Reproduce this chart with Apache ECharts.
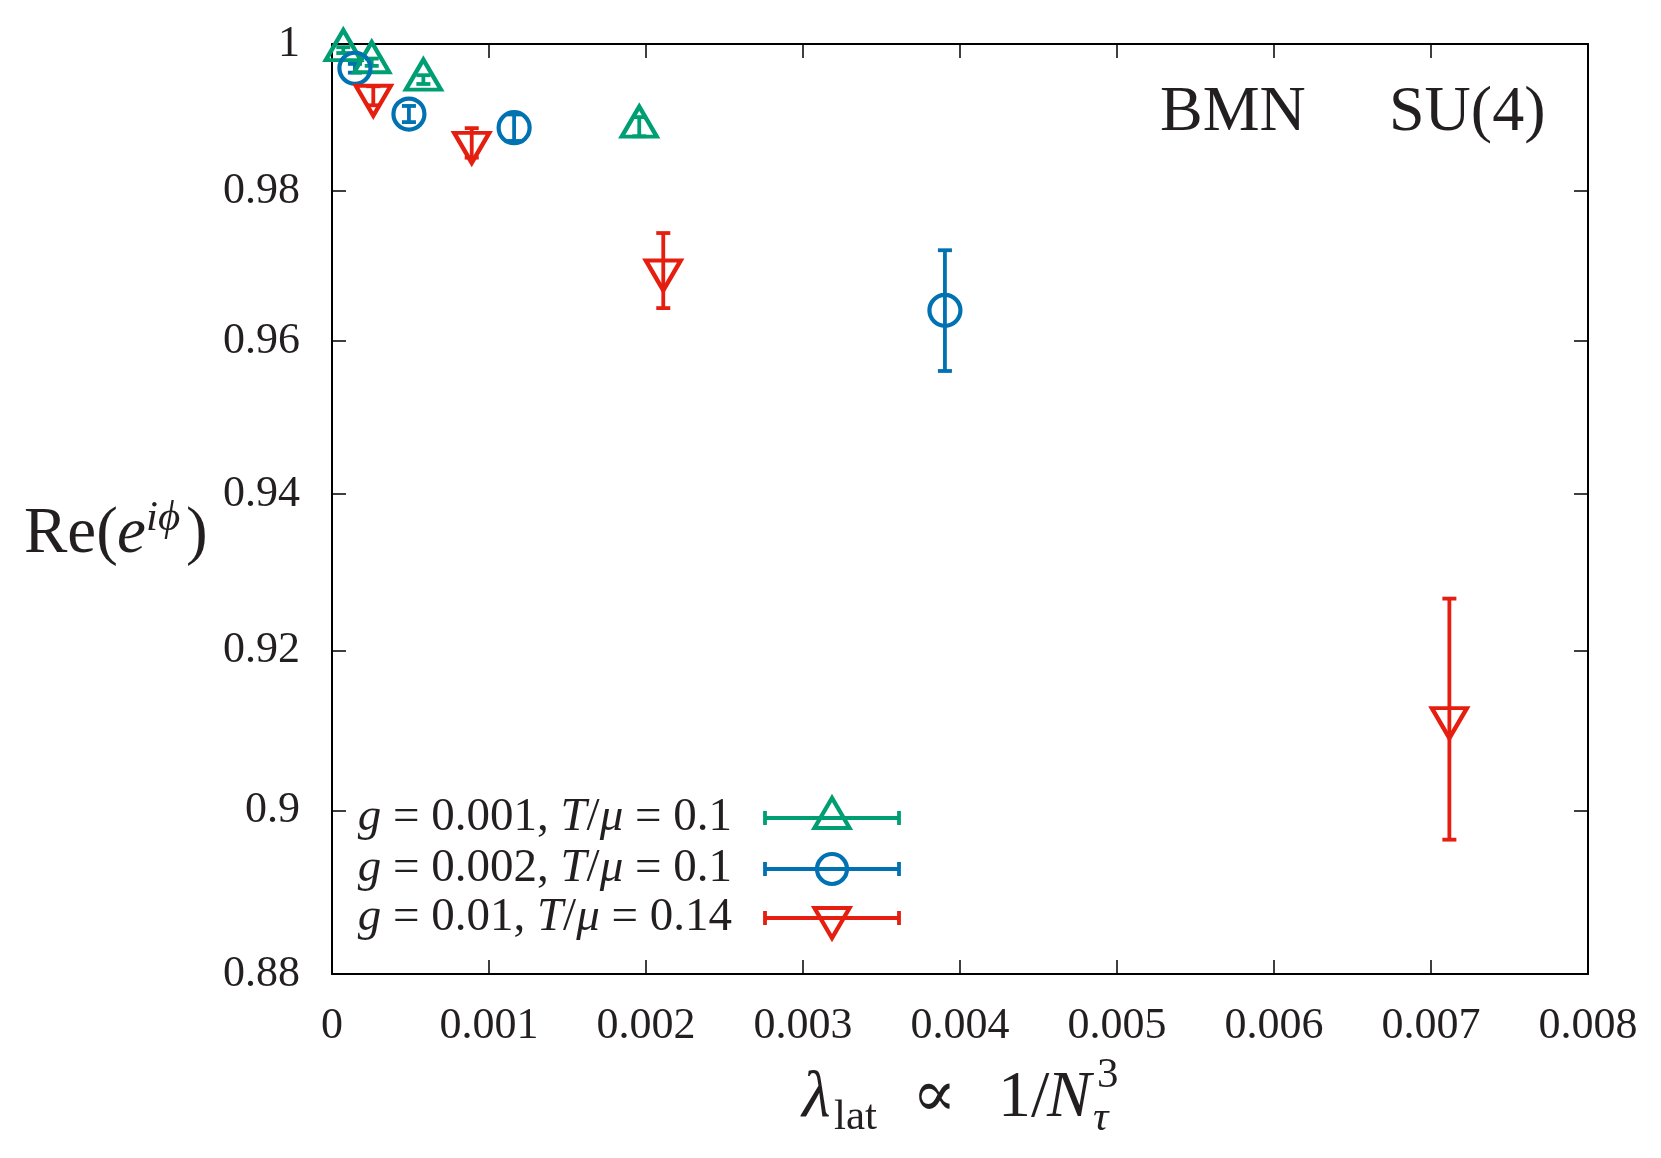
<!DOCTYPE html>
<html>
<head>
<meta charset="utf-8">
<script src="https://cdn.jsdelivr.net/npm/echarts@6/dist/echarts.min.js"></script>
<style>
html, body { margin: 0; padding: 0; background: #fff; }
#chart { width: 1661px; height: 1158px; }
</style>
</head>
<body>
<div id="chart"></div>
<script>
// tick values (y axis is logarithmic)
const xTicks = [0, 0.001, 0.002, 0.003, 0.004, 0.005, 0.006, 0.007, 0.008];
const yTicks = [0.88, 0.9, 0.92, 0.94, 0.96, 0.98, 1];

// g = 0.001, T/mu = 0.1
const g1X = [0.000072, 0.000253, 0.000582, 0.001957];
const g1Y = [0.99916, 0.9975, 0.99512, 0.9887];
const g1Err = [0.0004, 0.0005, 0.0006, 0.0013];

// g = 0.002, T/mu = 0.1
const g2X = [0.000146, 0.00049, 0.00116, 0.003904];
const g2Y = [0.99667, 0.99042, 0.98856, 0.96405];
const g2Err = [0.0006, 0.0011, 0.0018, 0.008];

// g = 0.01, T/mu = 0.14
const g3X = [0.000263, 0.00089, 0.00211, 0.007117];
const g3Y = [0.99291, 0.9865, 0.96935, 0.9115];
const g3Err = [0.0013, 0.002, 0.005, 0.0151];

const seriesNames = ['g = 0.001, T/μ = 0.1', 'g = 0.002, T/μ = 0.1', 'g = 0.01, T/μ = 0.14'];
const legendRich = ['{i|g} = 0.001, {i|T}/{i|μ} = 0.1', '{i|g} = 0.002, {i|T}/{i|μ} = 0.1', '{i|g} = 0.01, {i|T}/{i|μ} = 0.14'];

const GREEN = '#009e73', BLUE = '#0072b2', RED = '#e51e10';
const FONT = '"Liberation Serif", "DejaVu Serif", serif';
const TEXT = '#231f20';
const LW = 3.8;   // error bars
const MW = 4.2;   // point outlines

const chart = echarts.init(document.getElementById('chart'));

// text placed by its baseline
function txt(s, x, base, size, italic, align) {
    return {
        type: 'text', x: x, y: base - 0.32 * size, silent: true,
        style: {
            text: s, fontSize: size, fontFamily: FONT, fontStyle: italic ? 'italic' : 'normal',
            fill: TEXT, align: align || 'left', verticalAlign: 'middle'
        }
    };
}

function pts(xs, ys) { return xs.map((x, i) => [x, ys[i]]); }
function errs(xs, ys, es) { return xs.map((x, i) => [x, ys[i], es[i]]); }

function errSeries(data, color) {
    return {
        type: 'custom',
        data: data,
        encode: { x: 0, y: 1 },
        z: 3,
        silent: true,
        renderItem: function (params, api) {
            const x = api.value(0), y = api.value(1), e = api.value(2);
            const hi = api.coord([x, y + e]);
            const lo = api.coord([x, y - e]);
            const c = 7;
            const st = { stroke: color, lineWidth: LW };
            return {
                type: 'group',
                children: [
                    { type: 'line', shape: { x1: hi[0], y1: hi[1], x2: lo[0], y2: lo[1] }, style: st },
                    { type: 'line', shape: { x1: hi[0] - c, y1: hi[1], x2: hi[0] + c, y2: hi[1] }, style: st },
                    { type: 'line', shape: { x1: lo[0] - c, y1: lo[1], x2: lo[0] + c, y2: lo[1] }, style: st }
                ]
            };
        }
    };
}

function markSeries(name, data, color, symbol, size, offset) {
    return {
        name: name,
        type: 'scatter',
        data: data,
        symbol: symbol,
        symbolSize: size,
        symbolOffset: offset,
        z: 4,
        itemStyle: { color: 'rgba(255,255,255,0)', borderColor: color, borderWidth: MW, opacity: 1 }
    };
}

const DOWN = 'path://M0,0L2,0L1,1.732Z';

// legend (gnuplot style: text, then errorbar sample with marker)
const legendRows = [818, 869, 918];
const legendColors = [GREEN, BLUE, RED];
const legendGraphics = [];
legendRows.forEach((ly, i) => {
    const col = legendColors[i];
    legendGraphics.push({
        type: 'text', x: 732, y: ly, silent: true,
        style: {
            text: legendRich[i], fontSize: 47, fontFamily: FONT, fill: TEXT,
            align: 'right', verticalAlign: 'middle',
            rich: { i: { fontStyle: 'italic', fontSize: 47, fontFamily: FONT, fill: TEXT } }
        }
    });
    const st = { stroke: col, lineWidth: LW, fill: null };
    const mst = { stroke: col, lineWidth: MW, fill: null };
    const x1 = 765, x2 = 899, cx = 832;
    legendGraphics.push({ type: 'line', shape: { x1: x1, y1: ly, x2: x2, y2: ly }, style: st });
    legendGraphics.push({ type: 'line', shape: { x1: x1, y1: ly - 7, x2: x1, y2: ly + 7 }, style: st });
    legendGraphics.push({ type: 'line', shape: { x1: x2, y1: ly - 7, x2: x2, y2: ly + 7 }, style: st });
    if (i === 0) {
        legendGraphics.push({ type: 'polygon', shape: { points: [[cx, ly - 20], [cx - 17.5, ly + 10], [cx + 17.5, ly + 10]] }, style: mst });
    } else if (i === 1) {
        legendGraphics.push({ type: 'circle', shape: { cx: cx, cy: ly, r: 15 }, style: mst });
    } else {
        legendGraphics.push({ type: 'polygon', shape: { points: [[cx - 17.5, ly - 10], [cx + 17.5, ly - 10], [cx, ly + 20]] }, style: mst });
    }
});

// y axis title: Re(e^{i phi})
const yl = [
    txt('Re(', 24, 556, 65, false),
    txt('e', 117, 556, 65, true),
    txt('iϕ', 146, 532, 43, true),
    txt(')', 186, 556, 65, false)
];

// x axis title: lambda_lat ∝ 1/N_tau^3
const xl = [
    txt('λ', 802, 1120, 66, true),
    txt('lat', 834, 1131, 43, false),
    txt('∝', 912, 1120, 66, false),
    txt('1/', 998, 1120, 66, false),
    txt('N', 1047, 1120, 66, true),
    txt('3', 1097, 1089, 43, false),
    txt('τ', 1093, 1132, 43, true)
];

const axisCommon = {
    splitLine: { show: false },
    axisLine: { show: true, onZero: false, lineStyle: { color: '#000', width: 2 } },
    axisTick: { show: true, inside: true, length: 14, lineStyle: { color: '#000', width: 1.5 } }
};
const labelStyle = { fontSize: 44, fontFamily: FONT, color: TEXT };

chart.setOption({
    backgroundColor: '#fff',
    animation: false,
    grid: { left: 332, right: 73, top: 44, bottom: 184, containLabel: false, outerBoundsMode: 'none' },
    xAxis: [
        Object.assign({}, axisCommon, {
            type: 'value', position: 'bottom', min: xTicks[0], max: xTicks[xTicks.length - 1], interval: 0.001,
            axisLabel: Object.assign({ margin: 30, formatter: v => String(+v.toFixed(3)) }, labelStyle)
        }),
        Object.assign({}, axisCommon, {
            type: 'value', position: 'top', min: xTicks[0], max: xTicks[xTicks.length - 1], interval: 0.001,
            axisLabel: { show: false }
        })
    ],
    yAxis: [
        Object.assign({}, axisCommon, {
            type: 'log', position: 'left', min: yTicks[0], max: yTicks[yTicks.length - 1],
            axisTick: Object.assign({}, axisCommon.axisTick, { customValues: yTicks }),
            axisLabel: Object.assign({ margin: 32, customValues: yTicks, formatter: v => String(+(+v).toFixed(2)) }, labelStyle)
        }),
        Object.assign({}, axisCommon, {
            type: 'log', position: 'right', min: yTicks[0], max: yTicks[yTicks.length - 1],
            axisTick: Object.assign({}, axisCommon.axisTick, { customValues: yTicks }),
            axisLabel: { show: false }
        })
    ],
    series: [
        errSeries(errs(g1X, g1Y, g1Err), GREEN),
        errSeries(errs(g2X, g2Y, g2Err), BLUE),
        errSeries(errs(g3X, g3Y, g3Err), RED),
        markSeries(seriesNames[0], pts(g1X, g1Y), GREEN, 'triangle', [35, 30], [0, -5]),
        markSeries(seriesNames[1], pts(g2X, g2Y), BLUE, 'circle', 31, [0, 0]),
        markSeries(seriesNames[2], pts(g3X, g3Y), RED, DOWN, [35, 30], [0, 5])
    ],
    graphic: [
        txt('BMN', 1160, 134, 64, false),
        txt('SU(4)', 1389, 134, 64, false)
    ].concat(yl, xl, legendGraphics)
});
</script>
</body>
</html>
